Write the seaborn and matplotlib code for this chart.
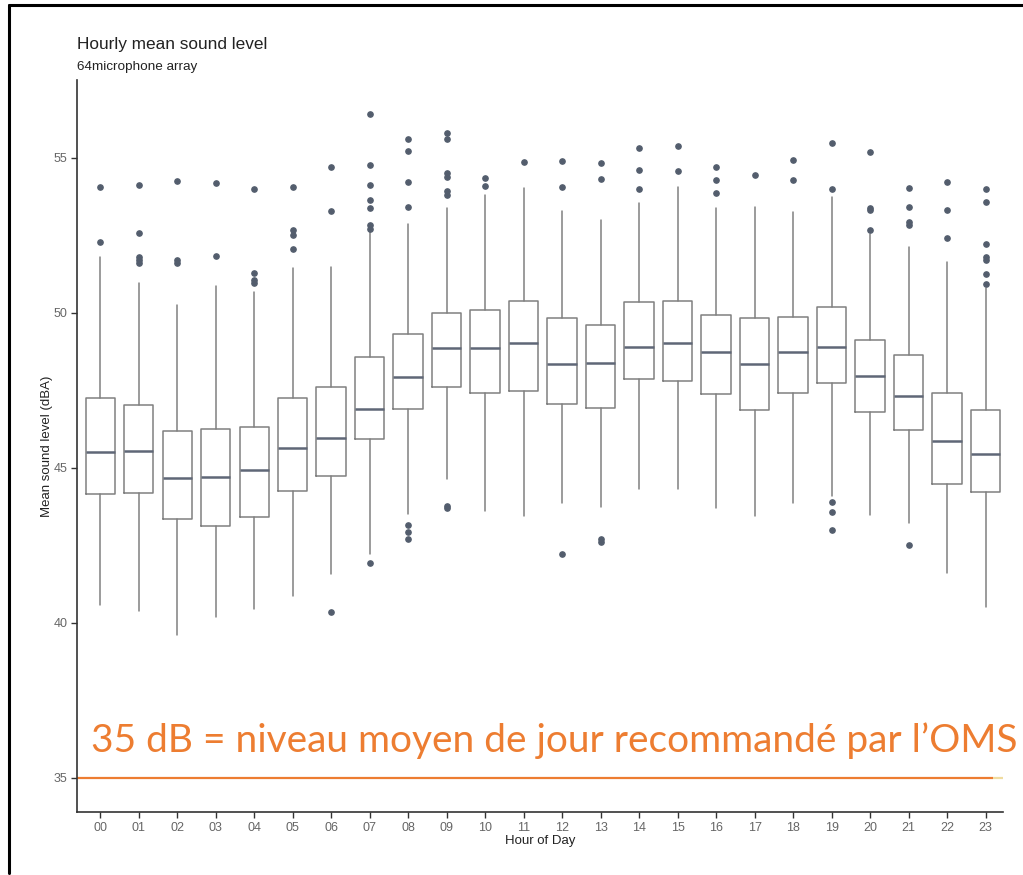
import matplotlib
matplotlib.use("Agg")
import matplotlib.pyplot as plt
from matplotlib.lines import Line2D
import seaborn as sns

# Hourly box statistics (dBA)
hours = ["00", "01", "02", "03", "04", "05", "06", "07", "08", "09", "10", "11",
         "12", "13", "14", "15", "16", "17", "18", "19", "20", "21", "22", "23"]
q1 = [44.16, 44.18, 43.35, 43.14, 43.41, 44.26, 44.74, 45.94, 46.90, 47.60, 47.41, 47.49,
      47.06, 46.94, 47.87, 47.81, 47.38, 46.87, 47.41, 47.75, 46.82, 46.23, 44.47, 44.23]
median = [45.51, 45.56, 44.67, 44.70, 44.94, 45.63, 45.96, 46.89, 47.95, 48.88, 48.88, 49.02,
          48.35, 48.40, 48.91, 49.02, 48.73, 48.37, 48.75, 48.91, 47.98, 47.32, 45.87, 45.45]
q3 = [47.25, 47.03, 46.20, 46.27, 46.33, 47.25, 47.60, 48.59, 49.31, 50.01, 50.10, 50.38,
      49.83, 49.60, 50.35, 50.40, 49.94, 49.83, 49.88, 50.20, 49.13, 48.65, 47.41, 46.87]
whisker_low = [40.58, 40.39, 39.61, 40.20, 40.46, 40.88, 41.57, 42.23, 43.52, 44.65, 43.62, 43.45,
               43.88, 43.73, 44.31, 44.31, 43.72, 43.45, 43.88, 44.10, 43.48, 43.22, 41.60, 40.53]
whisker_high = [51.82, 50.96, 50.26, 50.87, 50.69, 51.46, 51.49, 52.62, 52.87, 53.38, 53.81, 54.04,
                53.29, 53.00, 53.56, 54.07, 53.38, 53.43, 53.25, 53.73, 52.55, 52.14, 51.66, 50.80]
outliers = [
    [54.07, 52.30],
    [54.13, 52.57, 51.80, 51.70, 51.60],
    [54.26, 51.70, 51.62],
    [54.18, 51.84],
    [54.00, 51.30, 51.06, 50.96],
    [54.07, 52.68, 52.52, 52.05],
    [54.72, 53.29, 40.36],
    [56.41, 54.78, 54.12, 53.65, 53.38, 52.84, 52.70, 41.94],
    [55.60, 55.22, 54.22, 53.43, 43.15, 42.94, 42.72],
    [55.80, 55.60, 54.53, 54.40, 53.94, 53.81, 43.78, 43.70],
    [54.35, 54.10],
    [54.88],
    [54.90, 54.06, 42.24],
    [54.85, 54.31, 42.70, 42.62],
    [55.33, 54.61, 54.01],
    [55.39, 54.58],
    [54.72, 54.29, 53.86],
    [54.45],
    [54.94, 54.29],
    [55.47, 54.01, 43.89, 43.57, 43.00],
    [55.18, 53.40, 53.33, 52.68],
    [54.04, 53.43, 52.95, 52.84, 42.51],
    [54.22, 53.31, 52.41],
    [54.01, 53.58, 52.23, 51.82, 51.71, 51.27, 50.94],
]
who_level = 35
y_ticks = [35, 40, 45, 50, 55]

sns.set_theme(style="ticks")
plt.rcParams["font.family"] = ["Liberation Sans", "DejaVu Sans"]

fig = plt.figure(figsize=(10.23, 8.75), dpi=100)
ax = fig.add_axes([0.0753, 0.0720, 0.9051, 0.8366])

stats = [
    dict(label=h, q1=a, med=m, q3=b, whislo=lo, whishi=hi, fliers=f)
    for h, a, m, b, lo, hi, f in zip(hours, q1, median, q3, whisker_low, whisker_high, outliers)
]
box_color = "#808080"
ax.bxp(
    stats,
    positions=range(len(hours)),
    widths=0.76,
    showcaps=False,
    patch_artist=False,
    boxprops=dict(color=box_color, linewidth=1.1),
    whiskerprops=dict(color=box_color, linewidth=1.1),
    medianprops=dict(color="#5f6777", linewidth=1.8),
    flierprops=dict(marker="o", markersize=3.8, markerfacecolor="#535d6d",
                    markeredgecolor="#535d6d", linestyle="none"),
)

# WHO recommended daytime level
ax.plot([-0.6, 23.2], [who_level, who_level], color="#ED7D31", linewidth=1.6, solid_capstyle="butt")
ax.plot([23.2, 23.45], [who_level, who_level], color="#f0dca0", linewidth=1.6, solid_capstyle="butt")
ax.text(-0.24, 35.84, "35 dB = niveau moyen de jour recommandé par l\u2019OMS",
        color="#ED7D31", fontsize=28.0, family=["Lato", "DejaVu Sans"],
        ha="left", va="baseline", clip_on=False)

ax.set_xlim(-0.6, 23.45)
ax.set_ylim(33.903, 57.516)
ax.set_xticks(range(len(hours)))
ax.set_xticklabels(hours)
ax.set_yticks(y_ticks)
ax.tick_params(axis="both", labelsize=9, labelcolor="#666666", colors="#333333",
               length=4, width=1.0, pad=3)
for side in ("left", "bottom"):
    ax.spines[side].set_color("#333333")
    ax.spines[side].set_linewidth(1.2)
sns.despine(ax=ax)

ax.set_xlabel("Hour of Day", fontsize=9.5, color="#222222", labelpad=1)
ax.set_ylabel("Mean sound level (dBA)", fontsize=9.5, color="#222222", labelpad=0)

fig.text(77 / 1023, 1 - 45 / 875, "Hourly mean sound level", fontsize=12.4,
         color="#222222", ha="left", va="center")
fig.text(77 / 1023, 1 - 67 / 875, "64microphone array", fontsize=9.7,
         color="#222222", ha="left", va="center")

# slide frame edges
fig.add_artist(Line2D([9 / 1023, 1.0], [1 - 5 / 875, 1 - 5 / 875],
                      transform=fig.transFigure, color="black", linewidth=2.2))
fig.add_artist(Line2D([9 / 1023, 9 / 1023], [1 - 5 / 875, 1 - 873 / 875],
                      transform=fig.transFigure, color="black", linewidth=2.2))

fig.savefig("out.png", dpi=100)
